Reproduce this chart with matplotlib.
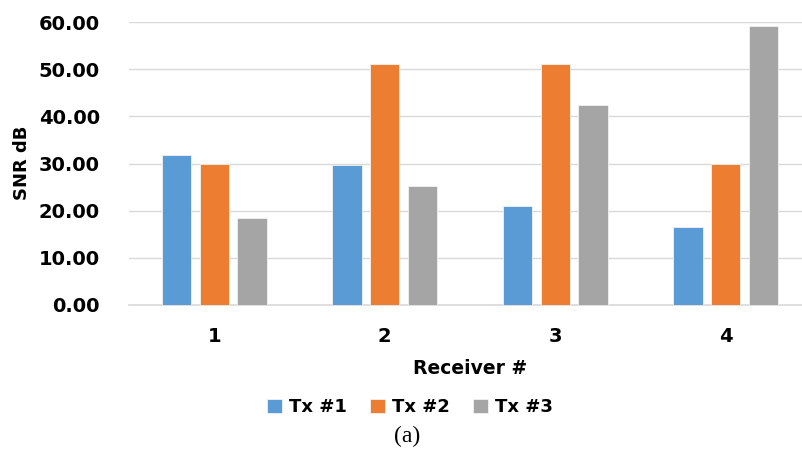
import numpy as np
import matplotlib
matplotlib.use('Agg')
import matplotlib.pyplot as plt

receivers = ['1', '2', '3', '4']
tx1 = [31.8, 29.7, 20.9, 16.5]
tx2 = [29.9, 51.1, 51.1, 29.9]
tx3 = [18.4, 25.2, 42.3, 59.1]
series = ['Tx #1', 'Tx #2', 'Tx #3']
colors = ['#5B9BD5', '#ED7D31', '#A5A5A5']

plt.rcParams['font.family'] = 'DejaVu Sans'
plt.rcParams['font.weight'] = 'bold'

fig = plt.figure(figsize=(8.03, 4.5), dpi=100)
ax = fig.add_axes([129 / 803, 1 - 305 / 450, 682 / 803, 283 / 450])

x = np.arange(len(receivers))
width = 0.173
pitch = 0.222
for i, (vals, name, c) in enumerate(zip([tx1, tx2, tx3], series, colors)):
    ax.bar(x + (i - 1) * pitch, vals, width, color=c, label=name,
           edgecolor='#F2F2F2', linewidth=0.6, zorder=3)

ax.set_xlim(-0.5, 3.5)
ax.set_ylim(0, 60)
ax.set_yticks(np.arange(0, 61, 10))
ax.set_yticklabels([f'{v:.2f}' for v in np.arange(0, 61, 10)], fontsize=14, fontweight='bold')
ax.set_xticks(x)
ax.set_xticklabels(receivers, fontsize=14, fontweight='bold')
ax.tick_params(axis='both', length=0)
ax.tick_params(axis='y', pad=21)
ax.tick_params(axis='x', pad=16)
ax.grid(axis='y', color='#D9D9D9', linewidth=1, zorder=0)
for s in ['left', 'right', 'top']:
    ax.spines[s].set_visible(False)
ax.spines['bottom'].set_color('#D9D9D9')
ax.spines['bottom'].set_linewidth(1.2)

fig.text(22 / 803, 1 - 163 / 450, 'SNR dB', ha='center', va='center', rotation=90,
         fontsize=13, fontweight='bold')
fig.text(470 / 803, 1 - 368 / 450, 'Receiver #', ha='center', va='center',
         fontsize=13.5, fontweight='bold')

handles, labels = ax.get_legend_handles_labels()
fig.legend(handles, labels, loc='center', bbox_to_anchor=(410 / 803, 1 - 407 / 450),
           ncol=3, frameon=False, handlelength=0.85, handleheight=0.85,
           handletextpad=0.4, columnspacing=1.25, prop={'weight': 'bold', 'size': 13})

fig.text(407 / 803, 1 - 436 / 450, '(a)', ha='center', va='center',
         fontsize=17, family='Liberation Serif', fontweight='normal')

fig.savefig('out.png', dpi=100)
